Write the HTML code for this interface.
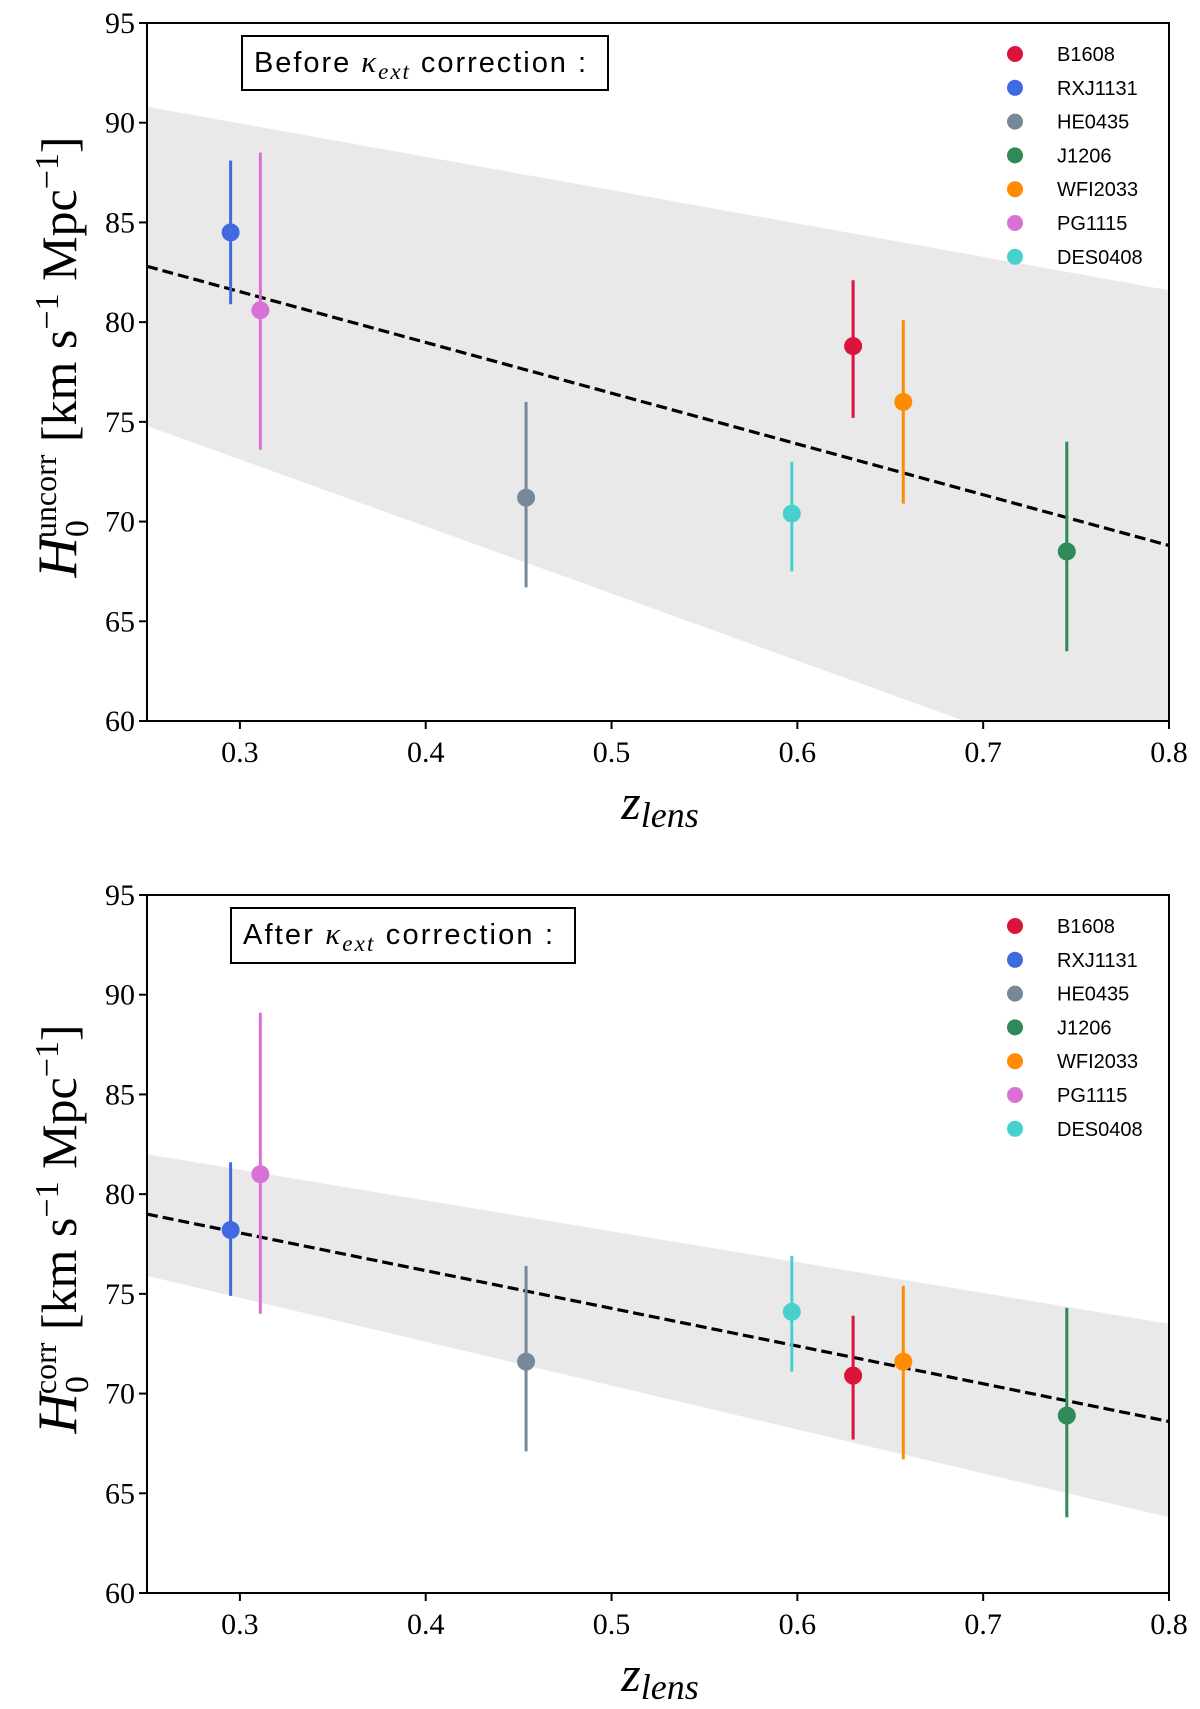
<!DOCTYPE html>
<html><head><meta charset="utf-8"><style>
body{margin:0;background:#fff;}
svg{display:block;}
.tick{font-family:"Liberation Serif",serif;font-size:30px;fill:#000;}
.leg{font-family:"Liberation Sans",sans-serif;font-size:20px;fill:#000;}
.ann{font-family:"Liberation Sans",sans-serif;font-size:29px;fill:#000;}
.lab{font-family:"Liberation Serif",serif;fill:#000;}
</style></head><body>
<svg id="chart" width="1200" height="1709" viewBox="0 0 1200 1709" xmlns="http://www.w3.org/2000/svg"></svg>
<script>
const names = ["B1608","RXJ1131","HE0435","J1206","WFI2033","PG1115","DES0408"];
const colors = ["#dc143c","#4169e1","#778899","#2e8b57","#ff8c00","#da70d6","#48d1cc"];
const zlens = [0.630,0.295,0.454,0.745,0.657,0.311,0.597];
const h0Uncorr = [78.8,84.5,71.2,68.5,76.0,80.6,70.4];
const h0UncorrLo = [75.2,80.9,66.7,63.5,70.9,73.6,67.5];
const h0UncorrHi = [82.1,88.1,76.0,74.0,80.1,88.5,73.0];
const h0Corr = [70.9,78.2,71.6,68.9,71.6,81.0,74.1];
const h0CorrLo = [67.7,74.9,67.1,63.8,66.7,74.0,71.1];
const h0CorrHi = [73.9,81.6,76.4,74.3,75.4,89.1,76.9];
const fitUncorr = [82.8,68.8];
const bandUncorrUpper = [90.8,81.6];
const bandUncorrLower = [74.8,56.3];
const fitCorr = [79.0,68.6];
const bandCorrUpper = [82.0,73.5];
const bandCorrLower = [75.9,63.8];
const xTicks = [0.3,0.4,0.5,0.6,0.7,0.8];
const yTicks = [60,65,70,75,80,85,90,95];
const xDomain = [0.25,0.8];
const yDomain = [60,95];

const NS = "http://www.w3.org/2000/svg";
const svg = document.getElementById('chart');
function mk(tag, attrs, parent){
  const e = document.createElementNS(NS, tag);
  for (const k in attrs) e.setAttribute(k, attrs[k]);
  (parent||svg).appendChild(e);
  return e;
}
const L = 147, R = 1169;
function panel(top, bottom, key, sup, annText, ann, vals, lo, hi, fit, bu, bl){
  const g = mk('g', {});
  
  
  const sx = v => L + (v - xDomain[0]) / (xDomain[1]-xDomain[0]) * (R - L);
  const sy = v => bottom - (v - yDomain[0]) / (yDomain[1]-yDomain[0]) * (bottom - top);
  const clipId = 'clip-' + key;
  const cp = mk('clipPath', {id: clipId}, g);
  mk('rect', {x:L, y:top, width:R-L, height:bottom-top}, cp);
  const band = mk('polygon', {points: `${sx(xDomain[0])},${sy(bu[0])} ${sx(xDomain[1])},${sy(bu[1])} ${sx(xDomain[1])},${sy(bl[1])} ${sx(xDomain[0])},${sy(bl[0])}`, fill:'#e9e9e9', 'clip-path':`url(#${clipId})`}, g);
  
  
  const fl = mk('line', {x1:sx(xDomain[0]), y1:sy(fit[0]), x2:sx(xDomain[1]), y2:sy(fit[1]), stroke:'#000', 'stroke-width':3.2, 'stroke-dasharray':'11,5'}, g);
  
  
  const fr = mk('rect', {x:L, y:top, width:R-L, height:bottom-top, fill:'none', stroke:'#000', 'stroke-width':2}, g);
  
  
  xTicks.forEach(t => {
    mk('line', {x1:sx(t), x2:sx(t), y1:bottom, y2:bottom+8, stroke:'#000','stroke-width':2}, g);
    const tx = mk('text', {x:sx(t), y:bottom+41, 'text-anchor':'middle', class:'tick'}, g);
    tx.textContent = String(t);
    
    
  });
  yTicks.forEach(t => {
    mk('line', {x1:L-8, x2:L, y1:sy(t), y2:sy(t), stroke:'#000','stroke-width':2}, g);
    const ty = mk('text', {x:L-12, y:sy(t)+10, 'text-anchor':'end', class:'tick'}, g);
    ty.textContent = String(t);
    
    
  });
  names.forEach((n, i) => {
    const eb = mk('line', {x1:sx(zlens[i]), x2:sx(zlens[i]), y1:sy(lo[i]), y2:sy(hi[i]), stroke:colors[i], 'stroke-width':3}, g);
    
    
    const c = mk('circle', {cx:sx(zlens[i]), cy:sy(vals[i]), r:9, fill:colors[i]}, g);
    
    
  });
  const lg = mk('g', {}, g);
  
  
  names.forEach((n, i) => {
    const yy = top + 31 + i*33.8;
    const m = mk('circle', {cx:1015, cy:yy, r:8, fill:colors[i]}, lg);
    
    
    const t = mk('text', {x:1057, y:yy+7, class:'leg'}, lg);
    t.textContent = n;
    
    
  });
  const ab = mk('rect', {x:ann[0], y:ann[1], width:ann[2]-ann[0], height:ann[3]-ann[1], fill:'#fff', stroke:'#000', 'stroke-width':2}, g);
  
  
  const at = mk('text', {x:ann[0]+12, y:ann[1]+36, class:'ann', textLength: ann[2]-ann[0]-34, lengthAdjust:'spacing'}, g);
  at.innerHTML = annText + ' <tspan font-family="Liberation Serif" font-style="italic" font-size="31">κ<tspan font-size="23" dy="7">ext</tspan></tspan><tspan dy="-7"> correction :</tspan>';
  
  
  const xl = mk('text', {x:660, y:bottom+98, 'text-anchor':'middle', class:'lab', 'font-size':50, 'font-style':'italic'}, g);
  xl.innerHTML = 'z<tspan font-size="36" dy="8">lens</tspan>';
  
  
  const cy = (top + bottom) / 2 - 15;
  const yl = mk('text', {transform:`translate(76,${cy}) rotate(-90)`, 'text-anchor':'middle', class:'lab', 'font-size':50}, g);
  yl.innerHTML = '<tspan font-style="italic" font-size="56">H</tspan><tspan font-size="34" dy="12">0</tspan><tspan font-size="32" dy="-32" dx="-18">' + sup + '</tspan><tspan dy="20"> [km s</tspan><tspan font-size="34" dy="-18">−1</tspan><tspan dy="18"> Mpc</tspan><tspan font-size="34" dy="-18">−1</tspan><tspan dy="18">]</tspan>';
  
  
}
panel(23, 721, 'before', 'uncorr', 'Before', [242,36,608,90], h0Uncorr, h0UncorrLo, h0UncorrHi, fitUncorr, bandUncorrUpper, bandUncorrLower);
panel(895, 1593, 'after', 'corr', 'After', [231,908,575,963], h0Corr, h0CorrLo, h0CorrHi, fitCorr, bandCorrUpper, bandCorrLower);
</script>
</body></html>
